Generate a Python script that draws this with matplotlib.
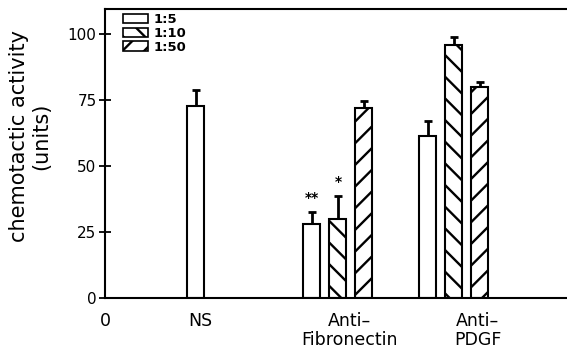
import numpy as np
import matplotlib
matplotlib.use("Agg")
import matplotlib.pyplot as plt
from matplotlib.patches import Patch

# data
groups = ["NS", "Anti-Fibronectin", "Anti-PDGF"]
dilutions = ["1:5", "1:10", "1:50"]
# bar values per group (NaN = not measured)
vals_5 = [72.7, 28.0, 61.4]
vals_10 = [np.nan, 30.0, 96.0]
vals_50 = [np.nan, 72.0, 80.0]
err_5 = [6.0, 4.5, 5.6]
err_10 = [np.nan, 8.6, 2.8]
err_50 = [np.nan, 2.6, 1.8]
stars = ["", "**", ""], ["", "*", ""]

xlabels = ["0", "NS", "Anti\u2013\nFibronectin", "Anti\u2013\nPDGF"]
yticks = [0, 25, 50, 75, 100]

# higher dpi gives sparser hatching like the original; sizes scaled back by k
DPI = 130
k = 100 / DPI

plt.rcParams["font.family"] = "DejaVu Sans"
plt.rcParams["hatch.linewidth"] = 1.7 * k

fig = plt.figure(figsize=(567 / DPI, 355 / DPI), dpi=DPI)
ax = fig.add_axes([0.185, 0.1606, 0.815, 0.814])

# positions in axis px-like units
centers = np.array([91, 233, 349])
step = 26
w = 17
lw = 1.5 * k

series = [(vals_5, err_5, ""), (vals_10, err_10, "\\\\"), (vals_50, err_50, "//")]
for i, (v, e, h) in enumerate(series):
    x = centers + (i - 1) * step
    if i == 0:
        x = x.copy()
        x[0] = centers[0]  # NS has a single bar at the group centre
    v = np.array(v)
    e = np.array(e)
    ok = ~np.isnan(v)
    ax.bar(x[ok], v[ok], width=w, color="white", edgecolor="black",
           linewidth=lw, hatch=h, zorder=2)
    ax.errorbar(x[ok], v[ok], yerr=[np.zeros(ok.sum()), e[ok]], fmt="none",
                ecolor="black", elinewidth=2 * k, capsize=3 * k,
                capthick=2 * k, zorder=1)
    for j in np.where(ok)[0]:
        s = stars[i][j] if i < 2 else ""
        if s:
            ax.text(x[j], v[j] + e[j] + 5.5, s, ha="center", va="center",
                    fontsize=10 * k, fontweight="bold")

ax.set_xlim(0, 462)
ax.set_ylim(0, 109.5)
ax.set_yticks(yticks)
ax.tick_params(axis="y", direction="inout", length=8 * k, width=1.3 * k,
               labelsize=11 * k, pad=2 * k)
ax.set_xticks([0, 95, 245, 373])
ax.set_xticklabels(xlabels, fontsize=12.5 * k, linespacing=1.1)
ax.tick_params(axis="x", length=0, pad=10 * k)

for s in ["left", "bottom", "top"]:
    ax.spines[s].set_linewidth(1.5 * k)
ax.spines["right"].set_visible(False)

ax.set_ylabel("chemotactic activity\n(units)", fontsize=15 * k,
              linespacing=1.1)
ax.yaxis.set_label_coords(-0.117, 0.56)

handles = [Patch(facecolor="white", edgecolor="black", hatch=h,
                 linewidth=1.2 * k) for _, _, h in series]
ax.legend(handles, dilutions, loc="upper left", bbox_to_anchor=(0.04, 0.985),
          frameon=False, prop={"weight": "bold", "size": 9.5 * k},
          handlelength=1.9, handleheight=0.7, handletextpad=0.35,
          labelspacing=0.05, borderpad=0, borderaxespad=0)

fig.savefig("out.png", dpi=DPI)
